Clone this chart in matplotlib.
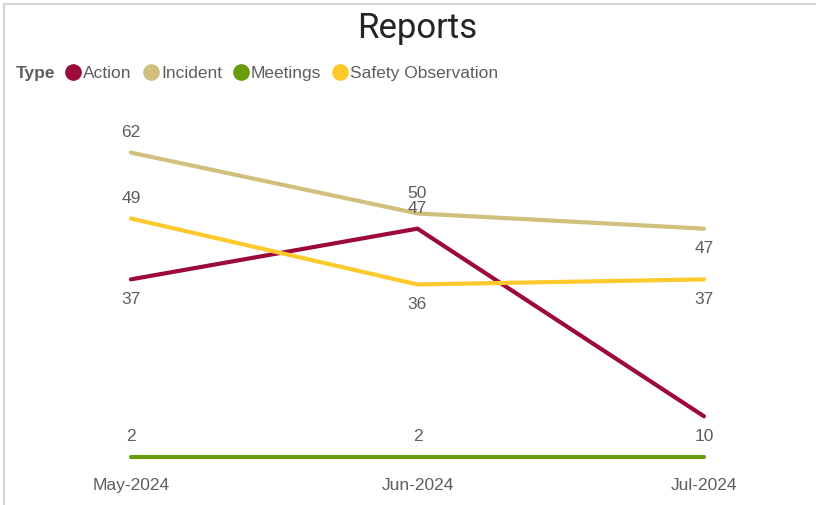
import matplotlib.pyplot as plt
from matplotlib.lines import Line2D
from matplotlib.patches import Rectangle

# data
months = ["May-2024", "Jun-2024", "Jul-2024"]
action = [37, 47, 10]
incident = [62, 50, 47]
meetings = [2, 2, 2]
safety = [49, 36, 37]

series = ["Action", "Incident", "Meetings", "Safety Observation"]
colors = ["#9B0A3A", "#D0C07E", "#6A9B0C", "#FEC92C"]
values = [action, incident, meetings, safety]
# label placement per point: +1 above, -1 below, 0 hidden
label_pos = [[-1, 1, -1], [1, 1, -1], [1, 1, 0], [1, -1, -1]]

plt.rcParams['font.family'] = ['Liberation Sans', 'DejaVu Sans']
txt_col = "#605E5C"

fig = plt.figure(figsize=(8.16, 5.05), dpi=100)
ax = fig.add_axes([0.0551, 0.0752, 0.913, 0.703])
x = list(range(len(months)))

for name, col, vals, pos in zip(series, colors, values, label_pos):
    ax.plot(x, vals, color=col, lw=3, solid_capstyle='round', zorder=2)
    for xi, v, p in zip(x, vals, pos):
        if p == 0:
            continue
        ax.annotate(str(v), (xi, v), xytext=(0, 14.5 * p), textcoords='offset points',
                    ha='center', va='center', fontsize=12.5, color=txt_col)

ax.set_xlim(-0.3, 2.3)
ax.set_ylim(0, 70)
ax.set_xticks(x)
ax.set_xticklabels(months, fontsize=12.5, color=txt_col)
ax.tick_params(axis='x', length=0, pad=8)
ax.set_yticks([])
for s in ax.spines.values():
    s.set_visible(False)

fig.text(0.511, 0.943, "Reports", ha='center', va='center', fontsize=25,
         color="#252423", family=['Roboto', 'DejaVu Sans'])

fig.text(0.019, 0.855, "Type", ha='left', va='center', fontsize=12.5,
         fontweight='bold', color=txt_col)
handles = [Line2D([], [], marker='o', ls='', color=c, markersize=11) for c in colors]
fig.legend(handles, series, ncol=4, loc='center left', bbox_to_anchor=(0.082, 0.855),
           frameon=False, fontsize=12.5, handlelength=0.75, handletextpad=0.2,
           columnspacing=0.72, labelcolor=txt_col, borderpad=0, borderaxespad=0)

# light frame on the left and top like the visual container
fig.add_artist(Rectangle((0.005, -0.1), 1.5, 1.092, transform=fig.transFigure,
                         fill=False, edgecolor="#D6D6D6", lw=1.5))

fig.savefig("out.png", dpi=100, facecolor='white')
